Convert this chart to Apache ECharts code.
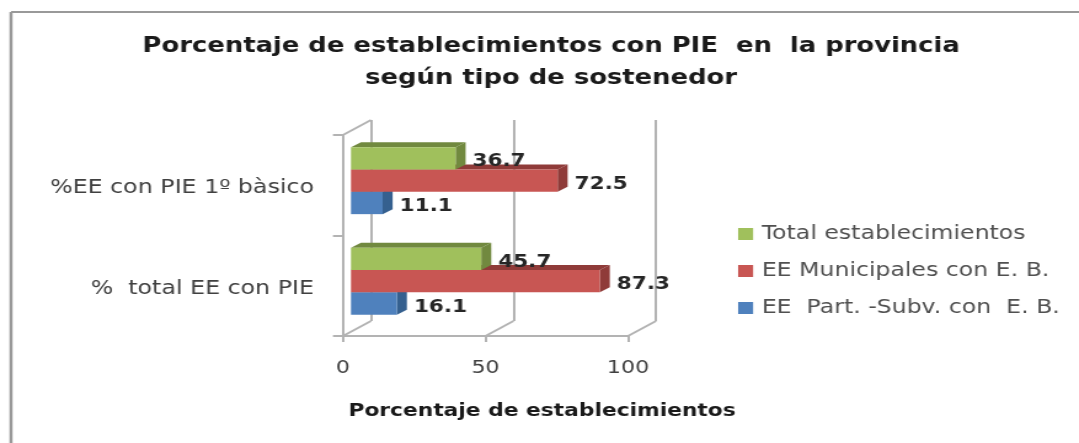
<!DOCTYPE html>
<html>
<head>
<meta charset="utf-8">
<style>
  html, body { margin: 0; padding: 0; background: #fff; overflow: hidden; }
  /* the original picture is stretched sideways, so the chart is too */
  #main { width: 877px; height: 443px; transform-origin: left top; transform: scaleX(1.2303); }
</style>
<script src="https://cdn.jsdelivr.net/npm/echarts@6/dist/echarts.min.js"></script>
</head>
<body>
<div id="main"></div>
<script>
const categories = ['%  total EE con PIE', '%EE con PIE 1º bàsico']
const totalValues = [45.7, 36.7]
const municipalValues = [87.3, 72.5]
const subvValues = [16.1, 11.1]
const tickValues = [0, 50, 100]

const font = 'DejaVu Sans'
const chartTitle = 'Porcentaje de establecimientos con PIE  en  la provincia\nsegún tipo de sostenedor'
const xAxisName = 'Porcentaje de establecimientos'

// page px -> chart px
const stretch = 1079 / 877
const sx = x => x / stretch

// front plane
const plot = { left: sx(343), top: 135, width: sx(285), height: 201 }
// back wall sits behind the front plane
const wallDx = sx(28)
const wallDy = -15
// bars start a bit inside the front plane, and have their own small depth
const barDx = sx(8)
const depthX = sx(10)
const depthY = -5
const barHeight = 22.3
const barTopFromCenter = -38
const wallColor = '#b3b3b3'

function barSeries(name, values, slot, front, dark) {
  return {
    name: name,
    type: 'custom',
    xAxisIndex: 0,
    yAxisIndex: 0,
    itemStyle: { color: front },
    data: values.map((v, i) => [v, i]),
    encode: { x: 0, y: 1 },
    renderItem: function (params, api) {
      const start = api.coord([0, api.value(1)])
      const end = api.coord([api.value(0), api.value(1)])
      const x0 = start[0] + barDx
      const x1 = end[0] + barDx
      const y0 = start[1] + barTopFromCenter + slot * barHeight
      const y1 = y0 + barHeight
      return {
        type: 'group',
        children: [
          { type: 'polygon', shape: { points: [[x0, y0], [x0 + depthX, y0 + depthY], [x1 + depthX, y0 + depthY], [x1, y0]] }, style: { fill: dark } },
          { type: 'polygon', shape: { points: [[x1, y0], [x1 + depthX, y0 + depthY], [x1 + depthX, y1 + depthY], [x1, y1]] }, style: { fill: dark } },
          { type: 'rect', shape: { x: x0, y: y0, width: x1 - x0, height: barHeight }, style: { fill: front } },
          {
            type: 'text',
            z2: 20,
            style: {
              text: api.value(0).toFixed(1),
              x: x1 + sx(17),
              y: (y0 + y1) / 2 + 3.5,
              fill: '#262626',
              font: 'bold 17.5px "' + font + '"',
              align: 'left',
              verticalAlign: 'middle'
            }
          }
        ]
      }
    }
  }
}

// diagonal lines joining the front plane to the back wall
const wallLinks = {
  name: 'wall',
  type: 'custom',
  xAxisIndex: 0,
  yAxisIndex: 0,
  silent: true,
  legendHoverLink: false,
  data: tickValues.map(v => [v]),
  encode: { x: 0 },
  renderItem: function (params, api) {
    const sys = params.coordSys
    const x = api.coord([api.value(0), 0])[0]
    const bottom = sys.y + sys.height
    const lineStyle = { stroke: wallColor, lineWidth: 2, fill: 'none' }
    const children = [
      { type: 'line', shape: { x1: x, y1: bottom, x2: x + wallDx, y2: bottom + wallDy }, style: lineStyle }
    ]
    if (api.value(0) === tickValues[0]) {
      children.push({ type: 'line', shape: { x1: x, y1: sys.y, x2: x + wallDx, y2: sys.y + wallDy }, style: lineStyle })
    }
    return { type: 'group', children: children }
  }
}

const chart = echarts.init(document.getElementById('main'), null, { renderer: 'canvas' })
chart.setOption({
  animation: false,
  backgroundColor: '#fff',
  textStyle: { fontFamily: font },
  title: {
    text: chartTitle,
    left: sx(545),
    top: 26,
    textAlign: 'center',
    textStyle: { fontFamily: font, fontSize: 21, fontWeight: 'bold', color: '#1a1a1a', lineHeight: 32 }
  },
  legend: {
    orient: 'vertical',
    left: sx(732),
    top: 214,
    itemWidth: sx(15),
    itemHeight: 12,
    itemGap: 7,
    icon: 'rect',
    selectedMode: false,
    data: ['Total establecimientos', 'EE Municipales con E. B.', 'EE  Part. -Subv. con  E. B.'],
    textStyle: { fontFamily: font, fontSize: 19.2, color: '#505050', lineHeight: 24, padding: [6, 0, 0, 2] }
  },
  grid: [
    { left: plot.left, top: plot.top, width: plot.width, height: plot.height },
    { left: plot.left + wallDx, top: plot.top + wallDy, width: plot.width, height: plot.height }
  ],
  xAxis: [
    {
      type: 'value',
      gridIndex: 0,
      min: 0,
      max: 100,
      interval: 50,
      name: xAxisName,
      nameLocation: 'middle',
      nameGap: 66,
      nameTextStyle: { fontFamily: font, fontSize: 17.7, fontWeight: 'bold', color: '#1a1a1a', padding: [0, 0, 0, 92] },
      axisLine: { show: true, lineStyle: { color: wallColor, width: 2 } },
      axisTick: { show: true, length: 6, lineStyle: { color: wallColor, width: 2 } },
      axisLabel: { fontFamily: font, fontSize: 18, color: '#404040', margin: 23 },
      splitLine: { show: false }
    },
    {
      type: 'value',
      gridIndex: 1,
      min: 0,
      max: 100,
      interval: 50,
      axisLine: { show: false },
      axisTick: { show: false },
      axisLabel: { show: false },
      splitLine: { show: true, lineStyle: { color: wallColor, width: 2 } }
    }
  ],
  yAxis: [
    {
      type: 'category',
      gridIndex: 0,
      data: categories,
      axisLine: { show: true, lineStyle: { color: wallColor, width: 2 } },
      axisTick: { show: true, length: sx(10), lineStyle: { color: wallColor, width: 2 } },
      axisLabel: { fontFamily: font, fontSize: 19.3, color: '#404040', margin: sx(29), verticalAlign: 'top', lineHeight: 6 }
    },
    {
      type: 'category',
      gridIndex: 1,
      data: categories,
      show: false
    }
  ],
  series: [
    wallLinks,
    barSeries('EE  Part. -Subv. con  E. B.', subvValues, 2, '#4F81BD', '#35608f'),
    barSeries('EE Municipales con E. B.', municipalValues, 1, '#C85653', '#8f3b39'),
    barSeries('Total establecimientos', totalValues, 0, '#A0C05C', '#71893f')
  ],
  graphic: [
    { type: 'line', silent: true, shape: { x1: sx(11), y1: 12, x2: 877, y2: 12 }, style: { stroke: '#999', lineWidth: 2 } },
    { type: 'line', silent: true, shape: { x1: sx(11), y1: 12, x2: sx(11), y2: 443 }, style: { stroke: '#999', lineWidth: 2.5 } }
  ]
})
</script>
</body>
</html>
